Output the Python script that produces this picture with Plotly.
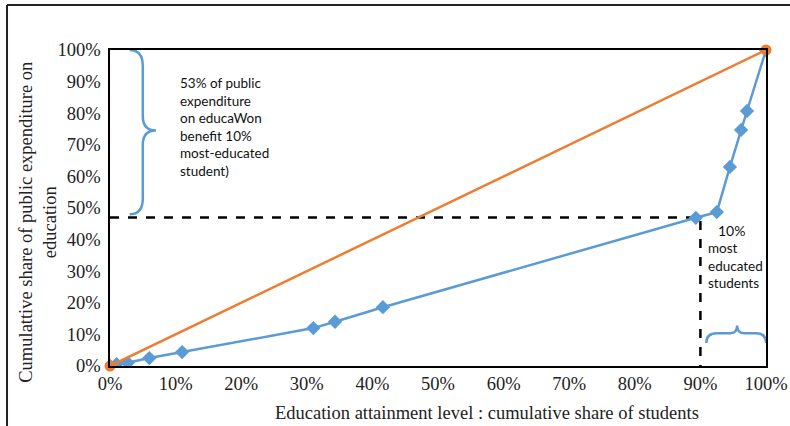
import plotly.graph_objects as go

# Data (percent)
students_cum = [0, 1.0, 2.7, 6.0, 11.0, 31.0, 34.3, 41.6, 89.3, 92.5, 94.5, 96.2, 97.1, 100]
expend_cum = [0, 0.6, 1.0, 2.5, 4.4, 12.0, 14.0, 18.6, 46.9, 48.7, 63.0, 74.7, 80.7, 100]
equality_x = [0, 100]
equality_y = [0, 100]
threshold_x = 90
threshold_y = 47
tick_vals = [0, 10, 20, 30, 40, 50, 60, 70, 80, 90, 100]
tick_text = [f"{v}%" for v in tick_vals]
x_title = "Education attainment level : cumulative share of students"
y_title = "Cumulattive share of public expenditure on<br>education"

BLUE = "#5B9BD5"
ORANGE = "#ED7D31"
SERIF = "Liberation Serif, Times New Roman, serif"
SANS = "Lato, Open Sans, Liberation Sans, sans-serif"

fig = go.Figure()

# dashed reference lines
fig.add_trace(go.Scatter(x=[0, threshold_x, threshold_x], y=[threshold_y, threshold_y, 0],
                         mode="lines", line=dict(color="black", width=2.5, dash="dash"),
                         hoverinfo="skip", showlegend=False))

fig.add_trace(go.Scatter(x=students_cum, y=expend_cum, mode="lines+markers",
                         line=dict(color=BLUE, width=2.5),
                         marker=dict(symbol="diamond", size=11, color=BLUE),
                         showlegend=False))

fig.add_trace(go.Scatter(x=equality_x, y=equality_y, mode="lines+markers",
                         line=dict(color=ORANGE, width=2.5),
                         marker=dict(symbol="circle", size=11, color=ORANGE),
                         showlegend=False, cliponaxis=False))

# braces
left_brace = "M 3,100 Q 5,100 5,95 L 5,79 Q 5,74.5 7,74.5 Q 5,74.5 5,70 L 5,53 Q 5,48 3,48"
bottom_brace = ("M 90.9,7.3 Q 90.9,10.4 92.5,10.4 L 94.6,10.4 Q 95.6,10.4 95.6,12.8 "
                "Q 95.6,10.4 96.6,10.4 L 98.4,10.4 Q 100,10.4 100,7.3")
shapes = [
    dict(type="path", path=left_brace, xref="x", yref="y", line=dict(color=BLUE, width=2.5)),
    dict(type="path", path=bottom_brace, xref="x", yref="y", line=dict(color=BLUE, width=2.5)),
    # outer frame (top and left)
    dict(type="line", xref="paper", yref="paper", x0=-0.157, x1=1.05, y0=1.1424, y1=1.1424,
         line=dict(color="#222", width=2)),
    dict(type="line", xref="paper", yref="paper", x0=-0.157, x1=-0.157, y0=1.1424, y1=-0.25,
         line=dict(color="#222", width=2)),
]

annotations = [
    dict(x=10.4, y=92.6, xref="x", yref="y", xanchor="left", yanchor="top", align="left",
         text="53% of public<br>expenditure<br>on educaWon<br>benefit 10%<br>most-educated<br>student)",
         showarrow=False, font=dict(family=SANS, size=13.5, color="#111")),
    dict(x=94.8, y=43, xref="x", yref="y", xanchor="center", yanchor="middle",
         text="10%", showarrow=False, font=dict(family=SANS, size=14, color="#111")),
    dict(x=90.9, y=40.4, xref="x", yref="y", xanchor="left", yanchor="top", align="left",
         text="most<br>educated<br>students", showarrow=False,
         font=dict(family=SANS, size=13.5, color="#111")),
    # axis titles
    dict(x=0.575, y=-0.149, xref="paper", yref="paper", xanchor="center", yanchor="middle",
         text=x_title, showarrow=False, font=dict(family=SERIF, size=18.5, color="#222")),
    dict(x=-0.11, y=0.456, xref="paper", yref="paper", xanchor="center", yanchor="middle",
         text=y_title, textangle=-90, showarrow=False,
         font=dict(family=SERIF, size=18.5, color="#222")),
]

fig.update_layout(
    width=790, height=426,
    margin=dict(l=110, r=24, t=50, b=60),
    paper_bgcolor="white", plot_bgcolor="white",
    shapes=shapes, annotations=annotations,
    xaxis=dict(range=[0, 100], tickvals=tick_vals, ticktext=tick_text, showgrid=False,
               zeroline=False, showline=True, linecolor="black", linewidth=1.5, mirror=True,
               ticks="", automargin=False, tickfont=dict(family=SERIF, size=18.5, color="#222")),
    yaxis=dict(range=[0, 100], tickvals=tick_vals, ticktext=tick_text, showgrid=False,
               zeroline=False, showline=True, linecolor="black", linewidth=1.5, mirror=True,
               ticks="", automargin=False, ticklabelstandoff=4,
               tickfont=dict(family=SERIF, size=18.5, color="#222")),
)

fig.write_html("out.html")
